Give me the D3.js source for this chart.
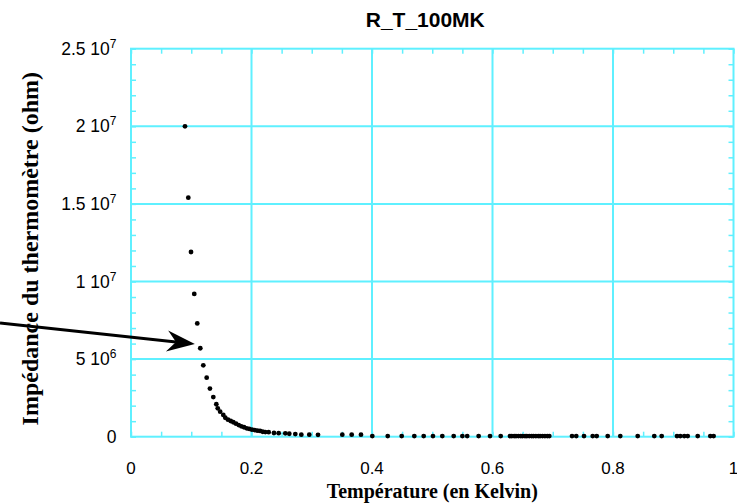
<!DOCTYPE html>
<html>
<head>
<meta charset="utf-8">
<script src="https://cdn.jsdelivr.net/npm/d3@7"></script>
<style>
body { margin: 0; background: #fff; }
</style>
</head>
<body>
<div id="chart-area"></div>
<script>
// temperature (K) and impedance (ohm)
const temperature = [
    0.0896, 0.0951, 0.0996, 0.105, 0.110, 0.115, 0.120, 0.1256, 0.131, 0.1366,
    0.1416, 0.144, 0.148, 0.1532, 0.1565, 0.161, 0.1655, 0.1698, 0.1743, 0.1788,
    0.1831, 0.1876, 0.192, 0.1963, 0.2008, 0.2053, 0.2096, 0.2141, 0.2186, 0.2229,
    0.2285, 0.2373, 0.2451, 0.2561, 0.2627, 0.2727, 0.2827, 0.2959, 0.3104,
    0.3507, 0.3663, 0.3817, 0.4005, 0.4261, 0.4493, 0.4702, 0.4858, 0.5012, 0.5167,
    0.5356, 0.550, 0.558, 0.577, 0.5959, 0.6136,
    0.629, 0.632, 0.636, 0.639, 0.643, 0.647, 0.650, 0.654, 0.657, 0.661,
    0.665, 0.668, 0.672, 0.676, 0.679, 0.683, 0.687, 0.691, 0.6943,
    0.732, 0.739, 0.7519, 0.7663, 0.773, 0.7912, 0.8121, 0.841, 0.8685, 0.8808,
    0.9062, 0.9117, 0.9183, 0.924, 0.9406, 0.9615, 0.967
];
const impedance = [
    2.00e7, 1.54e7, 1.19e7, 9.2e6, 7.3e6, 5.7e6, 4.6e6, 3.8e6, 3.1e6, 2.55e6,
    2.09e6, 1.83e6, 1.61e6, 1.40e6, 1.22e6, 1.10e6, 1.01e6, 9.3e5, 8.4e5, 7.5e5,
    6.7e5, 6.1e5, 5.4e5, 5.0e5, 4.5e5, 4.3e5, 3.9e5, 3.7e5, 3.2e5, 3.0e5,
    2.9e5, 2.4e5, 2.3e5, 2.2e5, 1.9e5, 1.7e5, 1.3e5, 1.3e5, 1.2e5,
    1.3e5, 1.3e5, 1.3e5, 4e4, 4e4, 4e4, 4e4, 4e4, 4e4, 4e4,
    4e4, 4e4, 4e4, 4e4, 4e4, 4e4,
    4e4, 4e4, 4e4, 4e4, 4e4, 4e4, 4e4, 4e4, 4e4, 4e4,
    4e4, 4e4, 4e4, 4e4, 4e4, 4e4, 4e4, 4e4, 4e4,
    4e4, 4e4, 4e4, 4e4, 4e4, 4e4, 4e4, 4e4, 4e4, 4e4,
    4e4, 4e4, 4e4, 4e4, 4e4, 4e4, 4e4
];
const xMajor = [0, 0.2, 0.4, 0.6, 0.8, 1];
const yMajor = [0, 5e6, 1e7, 1.5e7, 2e7, 2.5e7];
// arrow annotation: tail and head in data units
const arrowFrom = [-0.2174, 7.33e6];
const arrowTo = [0.106, 5.97e6];

const width = 737;
const height = 503;
const plotL = 131, plotR = 733.5, plotT = 48.7, plotB = 436.7;
const cyan = "#5ff0ff";

const svg = d3.select("#chart-area")
    .append("svg")
    .attr("width", width)
    .attr("height", height);

const x = d3.scaleLinear().domain([0, 1]).range([plotL, plotR]);
const y = d3.scaleLinear().domain([0, 2.5e7]).range([plotB, plotT]);

const xMinor = d3.range(0, 1.0001, 0.05);
const yMinor = d3.range(0, 2.5e7 + 1, 1e6);

// grid
svg.append("g").selectAll("line")
    .data(xMajor.slice(1, -1))
    .join("line")
    .attr("x1", d => x(d)).attr("x2", d => x(d))
    .attr("y1", plotT).attr("y2", plotB)
    .attr("stroke", cyan).attr("stroke-width", 2);
svg.append("g").selectAll("line")
    .data(yMajor.slice(1, -1))
    .join("line")
    .attr("x1", plotL).attr("x2", plotR)
    .attr("y1", d => y(d)).attr("y2", d => y(d))
    .attr("stroke", cyan).attr("stroke-width", 2);

// inner ticks on all four sides
function tickAxis(axis, tx, ty) {
    const g = svg.append("g")
        .attr("transform", `translate(${tx},${ty})`)
        .call(axis);
    g.selectAll("text").remove();
    g.select(".domain").remove();
    g.selectAll("line").attr("stroke", cyan).attr("stroke-width", 1.5);
}
tickAxis(d3.axisBottom(x).tickValues(xMinor).tickSize(-5), 0, plotB);
tickAxis(d3.axisTop(x).tickValues(xMinor).tickSize(-5), 0, plotT);
tickAxis(d3.axisLeft(y).tickValues(yMinor).tickSize(-5), plotL, 0);
tickAxis(d3.axisRight(y).tickValues(yMinor).tickSize(-5), plotR, 0);

svg.append("rect")
    .attr("x", plotL).attr("y", plotT)
    .attr("width", plotR - plotL).attr("height", plotB - plotT)
    .attr("fill", "none")
    .attr("stroke", cyan).attr("stroke-width", 2);

// tick labels
svg.append("g").selectAll("text")
    .data(xMajor)
    .join("text")
    .attr("x", d => x(d))
    .attr("y", plotB + 37)
    .attr("text-anchor", "middle")
    .style("font-family", "'Liberation Sans', Arial, sans-serif")
    .style("font-size", "17px")
    .text(d => d3.format("~g")(d));

const yLabels = svg.append("g").selectAll("text")
    .data(yMajor)
    .join("text")
    .attr("x", plotL - 14.5)
    .attr("y", d => y(d) + 6)
    .attr("text-anchor", "end")
    .style("font-family", "'Liberation Sans', Arial, sans-serif")
    .style("font-size", "17.5px");

yLabels.each(function(d) {
    const t = d3.select(this);
    if (d === 0) { t.text("0"); return; }
    const e = Math.floor(Math.log10(d));
    const m = +(d / Math.pow(10, e)).toFixed(2);
    t.append("tspan").text(m + " 10");
    t.append("tspan").attr("dy", -7).style("font-size", "12px").text(e);
});

// points
svg.append("g").selectAll("circle")
    .data(temperature.map((t, i) => [t, impedance[i]]))
    .join("circle")
    .attr("cx", d => x(d[0]))
    .attr("cy", d => y(d[1]))
    .attr("r", 2.4)
    .attr("fill", "#000");

// titles
svg.append("text")
    .attr("x", (plotL + plotR) / 2 - 7)
    .attr("y", 27)
    .attr("text-anchor", "middle")
    .style("font-family", "'Liberation Sans', Arial, sans-serif")
    .style("font-weight", "bold")
    .style("font-size", "21px")
    .text("R_T_100MK");

svg.append("text")
    .attr("x", (plotL + plotR) / 2)
    .attr("y", 498)
    .attr("text-anchor", "middle")
    .style("font-family", "'Liberation Serif', 'Times New Roman', serif")
    .style("font-weight", "bold")
    .style("font-size", "20px")
    .text("Température (en Kelvin)");

svg.append("text")
    .attr("transform", `translate(38,${(plotT + plotB) / 2 + 6}) rotate(-90)`)
    .attr("text-anchor", "middle")
    .style("font-family", "'Liberation Serif', 'Times New Roman', serif")
    .style("font-weight", "bold")
    .style("font-size", "24px")
    .text("Impédance du thermomètre (ohm)");

// arrow
const ax0 = x(arrowFrom[0]), ay0 = y(arrowFrom[1]);
const ax1 = x(arrowTo[0]), ay1 = y(arrowTo[1]);
const ang = Math.atan2(ay1 - ay0, ax1 - ax0);
const headLen = 28, headW = 10.5, notch = 19;
function pt(along, across) {
    return [ax1 + along * Math.cos(ang) - across * Math.sin(ang),
            ay1 + along * Math.sin(ang) + across * Math.cos(ang)];
}
svg.append("line")
    .attr("x1", ax0).attr("y1", ay0)
    .attr("x2", pt(-notch, 0)[0]).attr("y2", pt(-notch, 0)[1])
    .attr("stroke", "#000").attr("stroke-width", 3);
svg.append("path")
    .attr("d", d3.line()([pt(0, 0), pt(-headLen, -headW), pt(-notch, 0), pt(-headLen, headW)]) + "Z")
    .attr("fill", "#000");
</script>
</body>
</html>
